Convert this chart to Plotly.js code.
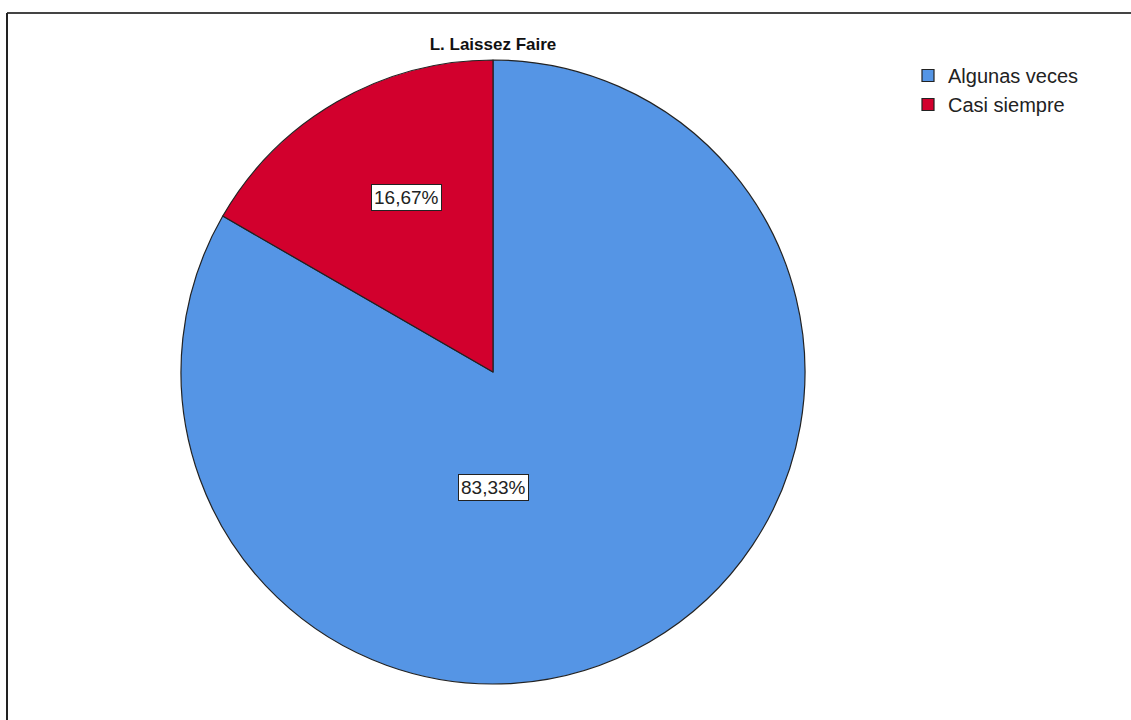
<!DOCTYPE html>
<html>
<head>
<meta charset="utf-8">
<script src="https://cdn.plot.ly/plotly-3.0.1.min.js"></script>
<style>
html,body{margin:0;padding:0;background:#fff;}
#chart{width:1131px;height:720px;}
</style>
</head>
<body>
<div id="chart"></div>
<script>
const categories = ["Algunas veces", "Casi siempre"];
const percentages = [83.33, 16.67];
const sliceColors = ["#5595E5", "#D2002D"];
const chartTitle = "L. Laissez Faire";

const W = 1131, H = 720;
const cx = 493, cy = 372, R = 312;

function fmt(v){ return v.toFixed(2).replace('.', ',') + '%'; }

const trace = {
  type: 'pie',
  labels: categories,
  values: percentages,
  sort: false,
  direction: 'clockwise',
  rotation: 0,
  textinfo: 'none',
  hoverinfo: 'label+percent',
  marker: {colors: sliceColors, line: {color: '#222', width: 1.2}},
  domain: {x: [(cx - R) / W, (cx + R) / W], y: [1 - (cy + R) / H, 1 - (cy - R) / H]},
  showlegend: true
};

// label positions (relative to pie centre, in pixels)
const labelOffsets = [[0, 115], [-87, -175]];
const annotations = percentages.map((v, i) => ({
  xref: 'paper', yref: 'paper',
  x: (cx + labelOffsets[i][0]) / W,
  y: 1 - (cy + labelOffsets[i][1]) / H,
  xanchor: 'center', yanchor: 'middle',
  text: fmt(v),
  showarrow: false,
  font: {family: 'Liberation Sans, Arial, sans-serif', size: 19, color: '#222'},
  bgcolor: '#ffffff',
  bordercolor: '#222',
  borderwidth: 1,
  borderpad: 2
}));

const layout = {
  width: W, height: H,
  margin: {l: 0, r: 0, t: 0, b: 0},
  paper_bgcolor: '#fff',
  title: {
    text: '<b>' + chartTitle + '</b>',
    x: cx / W, xanchor: 'center',
    y: 1 - 44 / H, yanchor: 'middle',
    font: {family: 'Liberation Sans, Arial, sans-serif', size: 17, color: '#111'}
  },
  legend: {
    x: 908 / W, xanchor: 'left',
    y: 1 - 56 / H, yanchor: 'top',
    font: {family: 'Liberation Sans, Arial, sans-serif', size: 20, color: '#222'},
    tracegroupgap: 0,
    itemwidth: 30
  },
  annotations: annotations,
  shapes: [
    {type: 'line', xref: 'paper', yref: 'paper', x0: 7 / W, x1: 1, y0: 1 - 13 / H, y1: 1 - 13 / H, line: {color: '#444', width: 2}},
    {type: 'line', xref: 'paper', yref: 'paper', x0: 7 / W, x1: 7 / W, y0: 0, y1: 1 - 13 / H, line: {color: '#222', width: 2}}
  ]
};

Plotly.newPlot('chart', [trace], layout, {displayModeBar: false, staticPlot: true});
</script>
</body>
</html>
